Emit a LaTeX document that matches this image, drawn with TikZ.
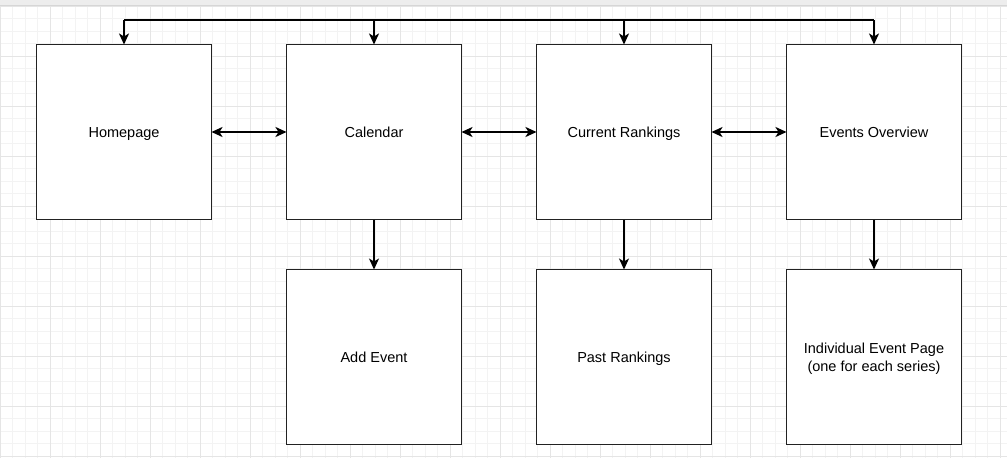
\documentclass[tikz,border=0pt]{standalone}
\usepackage{fontspec}
\setmainfont{Liberation Sans}
\usetikzlibrary{arrows.meta}
\definecolor{gridminor}{HTML}{F3F3F3}
\definecolor{gridmajor}{HTML}{E5E5E5}
\definecolor{boxline}{HTML}{222222}
\tikzset{
  page/.style={draw=boxline, line width=1.2pt, fill=white, minimum width=175pt,
    minimum height=175pt, inner sep=0pt, outer sep=0pt, align=center,
    text height=10.4pt, text depth=0pt,
    font=\fontsize{14.5pt}{18pt}\selectfont},
  tip/.tip={Stealth[length=11pt, width=10pt, inset=3pt]},
  link/.style={line width=1.8pt, black, -tip},
  both/.style={link, tip-tip},
  bus/.style={line width=1.8pt, black}
}
\begin{document}
\begin{tikzpicture}[x=1pt, y=-1pt]
  \useasboundingbox (0,0) rectangle (1007,458);
  \fill[white] (0,0) rectangle (1007,458);
  % background grid
  \foreach \i in {0,...,80} {
    \draw[gridminor, line width=0.7pt] (\i*12.5,6) -- (\i*12.5,458);
  }
  \foreach \j in {0,...,36} {
    \draw[gridminor, line width=0.7pt] (0,6+\j*12.5) -- (1007,6+\j*12.5);
  }
  \foreach \i in {0,...,20} {
    \draw[gridmajor, line width=0.8pt] (\i*50,6) -- (\i*50,458);
  }
  \foreach \j in {0,...,9} {
    \draw[gridmajor, line width=0.8pt] (0,6+\j*50) -- (1007,6+\j*50);
  }
  % top bar
  \fill[black!7] (0,0) rectangle (1007,5);
  \draw[black!16, line width=1pt] (0,5.5) -- (1007,5.5);

  % pages, first row
  \node[page] (home) at (124,132) {Homepage};
  \node[page] (cal)  at (374,132) {Calendar};
  \node[page] (rank) at (624,132) {Current Rankings};
  \node[page] (evt)  at (874,132) {Events Overview};
  % pages, second row
  \node[page] (add)  at (374,357) {Add Event};
  \node[page] (past) at (624,357) {Past Rankings};
  \node[page, text height=28.4pt, text depth=0.4pt] (ind) at (874,357)
    {Individual Event Page\\(one for each series)};

  % top bus
  \coordinate (busL) at (124,20);
  \coordinate (busR) at (874,20);
  \draw[bus] (busL) -- (busR);
  \draw[link] (busL) -- (home.north);
  \draw[link] (cal.north |- busL) -- (cal.north);
  \draw[link] (rank.north |- busL) -- (rank.north);
  \draw[link] (busR) -- (evt.north);

  % links between neighbours
  \draw[both] (home.east) -- (cal.west);
  \draw[both] (cal.east) -- (rank.west);
  \draw[both] (rank.east) -- (evt.west);

  % sub pages
  \draw[link, line width=1.4pt] (cal.south) -- (add.north);
  \draw[link, line width=1.4pt] (rank.south) -- (past.north);
  \draw[link, line width=1.4pt] (evt.south) -- (ind.north);
\end{tikzpicture}
\end{document}
